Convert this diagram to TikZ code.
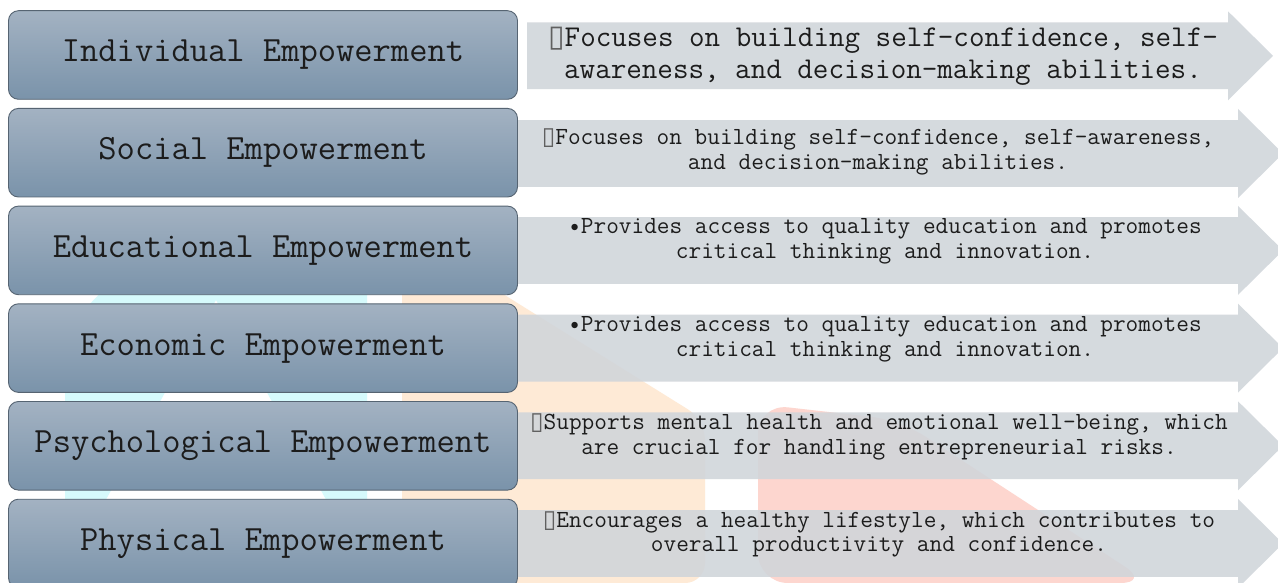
\documentclass[tikz,border=0pt]{standalone}
\usepackage{fontspec}
\newfontfamily\tofufont{DejaVu Sans}
\usetikzlibrary{positioning}
\definecolor{boxtop}{RGB}{163,178,194}
\definecolor{boxbot}{RGB}{122,147,170}
\definecolor{boxline}{RGB}{86,100,114}
\definecolor{arrowgray}{RGB}{208,213,218}
\definecolor{inkgray}{RGB}{28,28,28}
\definecolor{markcyan}{RGB}{214,250,252}
\definecolor{markorange}{RGB}{254,234,214}
\definecolor{markpink}{RGB}{253,214,207}
\newcommand{\tofu}{{\tofufont\color{inkgray!70}▯}}
\begin{document}
\begin{tikzpicture}[x=1pt, y=-1pt,
  empbox/.style={rectangle, draw=boxline, line width=0.9pt, rounded corners=10pt,
    minimum width=509pt, minimum height=88.6pt, top color=boxtop, bottom color=boxbot,
    text=inkgray, font=\ttfamily\fontsize{35.5}{38}\selectfont},
  desc/.style={align=center, text=inkgray, font=\ttfamily\fontsize{24.6}{24.5}\selectfont},
  node distance=97.7pt
]
\fill[white] (0,0) rectangle (1278,583);
\useasboundingbox (0,0) rectangle (1278,583);
% faint watermark behind everything
\fill[markcyan, even odd rule] (65,583) -- (65,330) -- (130,262) -- (367,262) -- (367,583) -- cycle
  (216,300) -- (372,583) -- (60,583) -- cycle;
\fill[markorange, rounded corners=20pt] (402,231) -- (705,420) -- (705,583) -- (402,583) -- cycle;
\fill[markpink, rounded corners=30pt] (758,583) -- (758,404) -- (900,420) -- (1150,583) -- cycle;
% grey arrows behind the boxes
\foreach \y/\xa/\xb in {55.8/527/1228, 153.5/518/1238, 250.4/518/1238, 348.1/518/1238, 445.8/518/1238, 543.5/518/1238}
  \fill[arrowgray, fill opacity=0.88] (\xa,\y-33.4) -- (\xb,\y-33.4) -- (\xb,\y-44.5)
    -- (\xb+45,\y) -- (\xb,\y+44.5) -- (\xb,\y+33.4) -- (\xa,\y+33.4) -- cycle;

\node[empbox] (indiv) at (263,55) {Individual Empowerment};
\node[empbox, below of=indiv] (social) {Social Empowerment};
\node[empbox, below of=social] (educ) {Educational Empowerment};
\node[empbox, below of=educ] (econ) {Economic Empowerment};
\node[empbox, below of=econ] (psych) {Psychological Empowerment};
\node[empbox, below of=psych] (phys) {Physical Empowerment};

\node[desc, right of=indiv, node distance=620pt, yshift=-1.5pt,
  font=\ttfamily\fontsize{30.2}{31.5}\selectfont] (indivtxt)
  {\tofu Focuses on building self-confidence, self-\\awareness, and decision-making abilities.};
\node[desc, right of=social, node distance=615pt, yshift=1pt] (socialtxt)
  {\tofu Focuses on building self-confidence, self-awareness,\\and decision-making abilities.};
\node[desc, right of=educ, node distance=622pt, yshift=9pt] (eductxt)
  {•Provides access to quality education and promotes\\critical thinking and innovation.};
\node[desc, right of=econ, node distance=622pt, yshift=9pt] (econtxt)
  {•Provides access to quality education and promotes\\critical thinking and innovation.};
\node[desc, right of=psych, node distance=616pt, yshift=9pt] (psychtxt)
  {\tofu Supports mental health and emotional well-being, which\\are crucial for handling entrepreneurial risks.};
\node[desc, right of=phys, node distance=616pt, yshift=9pt] (phystxt)
  {\tofu Encourages a healthy lifestyle, which contributes to\\overall productivity and confidence.};
\end{tikzpicture}
\end{document}
